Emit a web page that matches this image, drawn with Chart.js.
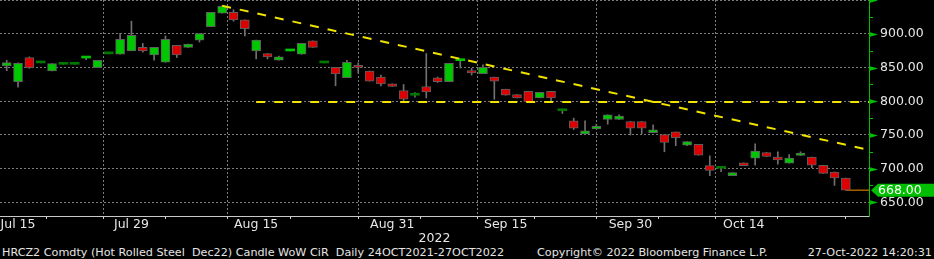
<!DOCTYPE html>
<html>
<head>
<meta charset="utf-8">
<script src="https://cdn.jsdelivr.net/npm/chart.js@4"></script>
<style>
  html, body { margin: 0; padding: 0; background: #000; }
  #wrap { position: relative; width: 934px; height: 259px; overflow: hidden; background: #000; }
  #chart { position: absolute; left: 0; top: 0; }
  .foot { position: absolute; top: 246px; font: 11.2px 'DejaVu Sans', sans-serif; color: #e4e4e4; white-space: pre; line-height: 13px; }
</style>
</head>
<body>
<div id="wrap">
  <canvas id="chart" width="934" height="246"></canvas>
  <div class="foot" style="left:2px">HRCZ2 Comdty (Hot Rolled Steel  Dec22) Candle WoW CiR  Daily 24OCT2021-27OCT2022</div>
  <div class="foot" style="left:537px">Copyright© 2022 Bloomberg Finance L.P.</div>
  <div class="foot" style="right:2px">27-Oct-2022 14:20:31</div>
</div>
<script>
// trading days shown (Labor Day skipped), one candle per day
const dates = [
  'Jul 14', 'Jul 15', 'Jul 18', 'Jul 19', 'Jul 20', 'Jul 21', 'Jul 22', 'Jul 25', 'Jul 26', 'Jul 27',
  'Jul 28', 'Jul 29', 'Aug 1', 'Aug 2', 'Aug 3', 'Aug 4', 'Aug 5', 'Aug 8', 'Aug 9', 'Aug 10',
  'Aug 11', 'Aug 12', 'Aug 15', 'Aug 16', 'Aug 17', 'Aug 18', 'Aug 19', 'Aug 22', 'Aug 23', 'Aug 24',
  'Aug 25', 'Aug 26', 'Aug 29', 'Aug 30', 'Aug 31', 'Sep 1', 'Sep 2', 'Sep 6', 'Sep 7', 'Sep 8',
  'Sep 9', 'Sep 12', 'Sep 13', 'Sep 14', 'Sep 15', 'Sep 16', 'Sep 19', 'Sep 20', 'Sep 21', 'Sep 22',
  'Sep 23', 'Sep 26', 'Sep 27', 'Sep 28', 'Sep 29', 'Sep 30', 'Oct 3', 'Oct 4', 'Oct 5', 'Oct 6',
  'Oct 7', 'Oct 10', 'Oct 11', 'Oct 12', 'Oct 13', 'Oct 14', 'Oct 17', 'Oct 18', 'Oct 19', 'Oct 20',
  'Oct 21', 'Oct 24', 'Oct 25', 'Oct 26', 'Oct 27'
];
const open = [
  852.5, 829, 865, 857, 845, 855, 855, 864.3, 850, 870.5,
  870, 875, 880, 869, 858, 883, 880, 891, 911, 931,
  932, 921, 875, 871, 861, 874.8, 870, 890, 857, 850.5,
  835, 853.5, 845, 836, 826, 816, 809, 822, 835, 829,
  860.3, 845.5, 841, 836, 818, 810, 815, 805, 815, 786,
  771, 751.5, 759, 773, 773, 770, 770, 753.5, 750.5, 754.5,
  735, 736, 704.5, 700.5, 689.5, 708.5, 715.5, 724, 717, 708,
  719.5, 717, 705, 695, 686
];
const high = [
  861, 857, 866, 857, 856, 855, 855, 865.7, 861, 870.5,
  901, 919, 886, 880, 897, 883, 885, 900.5, 932, 942,
  936, 921, 891, 871, 867, 876.2, 886, 890, 857, 850.5,
  861, 857, 845, 839, 826, 825, 813, 871, 836, 856.5,
  861.7, 849, 854, 836, 818, 810, 815, 813.5, 815, 786,
  775, 771, 766, 780, 780, 770, 770, 765, 750.5, 754.5,
  740, 736, 719, 700.5, 694, 708.5, 737, 724, 725, 721,
  725, 717, 705, 695, 686
];
const low = [
  845.5, 821, 849, 857, 845, 855, 855, 862, 850, 870.5,
  870, 875, 873, 861, 858, 865, 880, 888, 911, 931,
  919, 897, 863, 863, 861, 874.8, 870, 880, 857, 823,
  835, 842, 830, 823, 822, 801, 806, 805, 828, 829,
  849.5, 839, 841, 803, 809, 805, 799, 805, 798, 782,
  758, 751.5, 759, 766, 773, 750, 752, 753.5, 725, 734,
  734, 720, 689.5, 695.5, 689.5, 704.5, 705, 718, 706.5, 708,
  719.5, 701.5, 693, 675, 668
];
const close = [
  857.5, 856.5, 850, 857, 856, 855, 855, 865.7, 861, 870.5,
  892, 898, 875, 880, 892, 869, 885, 900.5, 932, 941,
  921, 908, 891, 866, 866, 876.2, 886, 880, 857, 840.5,
  858, 850.5, 830, 826, 822, 803, 809, 814, 829, 856.5,
  861.7, 842, 850.5, 830, 809, 805, 799, 813.5, 805, 786,
  760, 756, 763, 780, 778, 760, 760, 757.5, 739, 746,
  740, 720, 697.5, 700.5, 694, 704.5, 726, 718, 713, 715.5,
  723, 705, 693, 686, 668
];

// x-axis ticks (positions are trading-day numbers in the list above)
const labelPos = [1, 11, 22, 34, 44, 55, 65];
const labelText = ['Jul 15', 'Jul 29', 'Aug 15', 'Aug 31', 'Sep 15', 'Sep 30', 'Oct 14'];
const minorPos = [6, 17, 28, 39, 49, 60, 71];

// drawn trend lines
const trendX = [19, 76.04];
const trendY = [942, 727.7];
const supportX = [22, 76.04];
const supportY = [799, 799];

const xMin = -0.59, xMax = 76.04;
const yMin = 629.6, yMax = 950.5;

const GREEN = '#00c800';
const RED = '#dc0000';
const DOJI = '#007800';
const AXIS_GREEN = '#00c000';
const GRID = '#7c7c7c';
const TEXT = '#e6e6e6';
const YELLOW = '#f2e200';
const FONT = { family: "'DejaVu Sans', sans-serif", size: 12.5 };

function bodyColor(c) {
  if (c.type !== 'data') return GREEN;
  const i = c.dataIndex;
  if (close[i] > open[i]) return GREEN;
  if (close[i] < open[i]) return RED;
  return DOJI;
}

function bodyBorder(c) {
  if (c.type !== 'data') return 1;
  const i = c.dataIndex;
  return Math.abs(close[i] - open[i]) < 3 ? 0 : 1;
}

// green arrow ticks on the price axis and the last price box
const axisMarks = {
  id: 'axisMarks',
  afterDraw(chart) {
    const { ctx, chartArea, scales: { y } } = chart;
    const x0 = chartArea.right;
    ctx.save();
    ctx.fillStyle = AXIS_GREEN;
    ctx.strokeStyle = AXIS_GREEN;
    ctx.lineWidth = 1;
    for (let v = Math.ceil(yMin / 25) * 25; v <= yMax; v += 25) {
      const py = Math.round(y.getPixelForValue(v)) + 0.5;
      if (v % 50 === 0) {
        ctx.beginPath();
        ctx.moveTo(x0, py - 2.5);
        ctx.lineTo(x0 + 9, py);
        ctx.lineTo(x0, py + 2.5);
        ctx.closePath();
        ctx.fill();
      } else {
        ctx.beginPath();
        ctx.moveTo(x0, py);
        ctx.lineTo(x0 + 4, py);
        ctx.stroke();
      }
    }

    const last = close[close.length - 1];
    const py = y.getPixelForValue(last);
    ctx.fillStyle = '#00be00';
    ctx.beginPath();
    ctx.moveTo(x0 + 2, py);
    ctx.lineTo(x0 + 9, py - 6.5);
    ctx.lineTo(chart.width, py - 6.5);
    ctx.lineTo(chart.width, py + 6.5);
    ctx.lineTo(x0 + 9, py + 6.5);
    ctx.closePath();
    ctx.fill();
    ctx.fillStyle = '#ffffff';
    ctx.font = `${FONT.size}px ${FONT.family}`;
    ctx.textBaseline = 'middle';
    ctx.fillText(last.toFixed(2), x0 + 9, py + 0.5);
    ctx.restore();
  }
};

const ctx = document.getElementById('chart').getContext('2d');

new Chart(ctx, {
  type: 'bar',
  data: {
    datasets: [
      {
        type: 'line',
        data: trendX.map((x, i) => ({ x, y: trendY[i] })),
        borderColor: YELLOW,
        borderWidth: 2,
        borderDash: [9, 9],
        pointRadius: 0,
        order: -2
      },
      {
        type: 'line',
        data: supportX.map((x, i) => ({ x, y: supportY[i] })),
        borderColor: YELLOW,
        borderWidth: 2,
        borderDash: [9, 9],
        pointRadius: 0,
        order: -1
      },
      {
        // candle bodies
        data: dates.map((d, i) => ({ x: i, y: [open[i], close[i]] })),
        grouped: false,
        backgroundColor: bodyColor,
        borderColor: '#5e5e5e',
        borderWidth: bodyBorder,
        borderSkipped: false,
        minBarLength: 2,
        barPercentage: 1,
        categoryPercentage: 1,
        maxBarThickness: 9,
        order: 0
      },
      {
        // wicks
        data: dates.map((d, i) => ({ x: i, y: [low[i], high[i]] })),
        grouped: false,
        backgroundColor: '#707070',
        borderWidth: 0,
        barPercentage: 1,
        categoryPercentage: 1,
        maxBarThickness: 1,
        order: 1
      },
      {
        // last price marker line
        type: 'line',
        data: [{ x: dates.length - 1, y: close[close.length - 1] }, { x: xMax, y: close[close.length - 1] }],
        borderColor: '#ff8c00',
        borderWidth: 1,
        pointRadius: 0,
        order: 2
      }
    ]
  },
  options: {
    responsive: false,
    animation: false,
    events: [],
    layout: { padding: 0 },
    plugins: {
      legend: { display: false },
      tooltip: { enabled: false }
    },
    scales: {
      x: {
        type: 'linear',
        min: xMin,
        max: xMax,
        offset: false,
        afterBuildTicks(scale) {
          scale.ticks = labelPos.concat(minorPos).sort((a, b) => a - b).map(v => ({ value: v }));
        },
        afterFit(scale) {
          scale.height = 30;
          scale.paddingLeft = 0;
          scale.paddingRight = 0;
        },
        ticks: {
          autoSkip: false,
          maxRotation: 0,
          color: TEXT,
          font: FONT,
          padding: -2,
          callback: v => {
            const k = labelPos.indexOf(v);
            return k >= 0 ? labelText[k] : '';
          }
        },
        grid: {
          color: c => (c.tick && labelPos.includes(c.tick.value)) ? GRID : 'rgba(0,0,0,0)',
          tickColor: '#d0d0d0',
          tickLength: 3,
          lineWidth: 1
        },
        border: { color: '#c8c8c8', width: 1, dash: [2, 2] },
        title: {
          display: true,
          text: '2022',
          color: TEXT,
          font: FONT,
          padding: { top: 0, bottom: 0 }
        }
      },
      y: {
        position: 'right',
        min: yMin,
        max: yMax,
        afterFit(scale) {
          scale.width = 65;
          scale.paddingTop = 0;
          scale.paddingBottom = 0;
        },
        ticks: {
          stepSize: 50,
          includeBounds: false,
          color: TEXT,
          font: FONT,
          padding: 11,
          callback: v => (v >= 950 ? '' : v.toFixed(2))
        },
        grid: {
          color: GRID,
          drawTicks: false,
          lineWidth: 1
        },
        border: { color: AXIS_GREEN, width: 1, dash: [2, 2] }
      }
    }
  },
  plugins: [axisMarks]
});
</script>
</body>
</html>
